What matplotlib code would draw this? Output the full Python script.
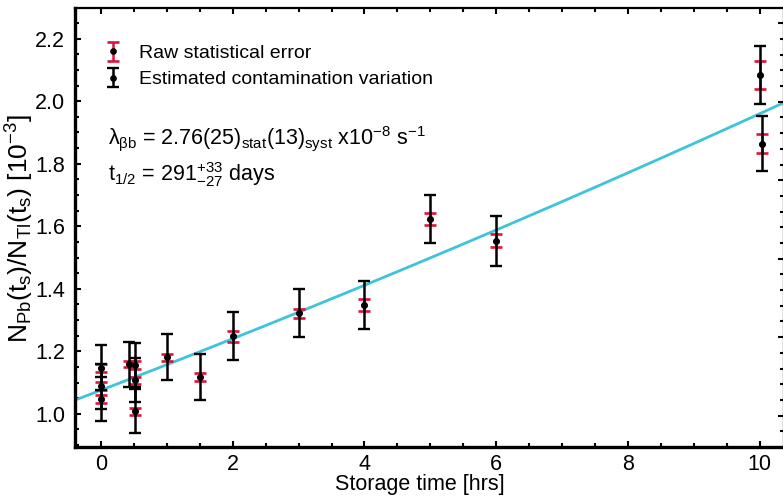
import numpy as np
import matplotlib
matplotlib.use("Agg")
import matplotlib.pyplot as plt
from matplotlib.ticker import MultipleLocator

plt.rcParams["font.family"] = ["Liberation Sans", "DejaVu Sans"]
plt.rcParams["mathtext.fontset"] = "custom"
plt.rcParams["mathtext.rm"] = "Liberation Sans"
plt.rcParams["mathtext.it"] = "Liberation Sans"
plt.rcParams["mathtext.bf"] = "Liberation Sans:bold"
plt.rcParams["mathtext.sf"] = "Liberation Sans"

# Storage time [hrs] and measured ratio N_Pb/N_Tl [1e-3]
storage_time = [0.0, 0.0, 0.0, 0.42, 0.52, 0.52, 0.52, 1.0, 1.5, 2.0,
                3.0, 4.0, 5.0, 6.0, 10.0, 10.03]
ratio = [1.147, 1.089, 1.047, 1.159, 1.157, 1.108, 1.008, 1.181, 1.117, 1.248,
         1.322, 1.348, 1.623, 1.554, 2.084, 1.864]
stat_err = [0.014, 0.014, 0.013, 0.010, 0.013, 0.011, 0.011, 0.012, 0.013, 0.018,
            0.014, 0.020, 0.018, 0.020, 0.045, 0.031]
contam_err = [0.072, 0.072, 0.071, 0.072, 0.070, 0.070, 0.070, 0.074, 0.074, 0.077,
              0.076, 0.078, 0.078, 0.080, 0.092, 0.087]

# fitted growth curve (polynomial coefficients, highest order first)
fit_coef = [0.00076, 0.0808, 1.0758]

RED = "#DC143C"
CYAN = "#3EC4DA"

W, H = 783, 499
fig = plt.figure(figsize=(W / 100, H / 100), dpi=100)
ax = fig.add_axes([75 / W, 1 - 447 / H, (784 - 75) / W, (447 - 8) / H])

xlim = (-0.395, 10.37)
ax.set_xlim(*xlim)
ax.set_ylim(0.894, 2.298)

xf = np.linspace(xlim[0], xlim[1], 300)
ax.plot(xf, np.polyval(fit_coef, xf), color=CYAN, lw=2.0, zorder=2)

eb_stat = ax.errorbar(storage_time, ratio, yerr=stat_err, fmt="o", color="black",
                      ms=3.8, ecolor=RED, elinewidth=1.8, capsize=4.3, capthick=1.9,
                      zorder=3, label="Raw statistical error")
eb_cont = ax.errorbar(storage_time, ratio, yerr=contam_err, fmt="o", color="black",
                      ms=3.8, ecolor="black", elinewidth=1.8, capsize=4.0, capthick=1.7,
                      zorder=4, label="Estimated contamination variation")

ax.xaxis.set_major_locator(MultipleLocator(2))
ax.xaxis.set_minor_locator(MultipleLocator(0.5))
ax.yaxis.set_major_locator(MultipleLocator(0.2))
ax.yaxis.set_minor_locator(MultipleLocator(0.05))
ax.yaxis.set_major_formatter(matplotlib.ticker.FormatStrFormatter("%.1f"))

ax.tick_params(which="both", direction="in", top=True, right=False, width=1.5,
               labelsize=15.5)
ax.tick_params(axis="y", pad=7)
ax.tick_params(axis="x", pad=5)
ax.tick_params(which="major", length=4.5)
ax.tick_params(which="minor", length=3)

for side in ["left", "bottom"]:
    ax.spines[side].set_linewidth(2.4)
ax.spines["top"].set_linewidth(1.6)
ax.spines["right"].set_linewidth(1.6)

# secondary scale on the right-hand side
ax2 = ax.twinx()
ax2.set_ylim(-0.399, 5.194)
ax2.yaxis.set_major_locator(MultipleLocator(1))
ax2.yaxis.set_minor_locator(MultipleLocator(0.2))
ax2.tick_params(which="both", direction="in", width=1.5, labelright=False)
ax2.tick_params(which="major", length=4.5)
ax2.tick_params(which="minor", length=3)
for s in ax2.spines.values():
    s.set_visible(False)

ax.set_xlabel("Storage time [hrs]", fontsize=15.5)
ax.xaxis.set_label_coords(0.487, -0.062)
ax.set_ylabel(r"N$_{\rm Pb}$(t$_{\rm s}$)/N$_{\rm Tl}$(t$_{\rm s}$) [10$^{-3}$]",
              fontsize=19)
ax.yaxis.set_label_coords(-0.055, 0.497)

leg = ax.legend(handles=[eb_stat, eb_cont], loc="upper left",
                bbox_to_anchor=(0.04, 0.917), frameon=False, fontsize=14,
                handlelength=1.0, handletextpad=0.85, labelspacing=0.45,
                borderpad=0, borderaxespad=0)

ax.text(0.046, 0.703,
        r"$\lambda_{\beta b}$ = 2.76(25)$_{\rm stat}$(13)$_{\rm syst}$ x10$^{-8}$ s$^{-1}$",
        transform=ax.transAxes, fontsize=15.5, va="center", ha="left")
ax.text(0.046, 0.621, r"t$_{1/2}$ = 291$^{+33}_{-27}$ days",
        transform=ax.transAxes, fontsize=15.5, va="center", ha="left")

fig.savefig("out.png", dpi=100)
